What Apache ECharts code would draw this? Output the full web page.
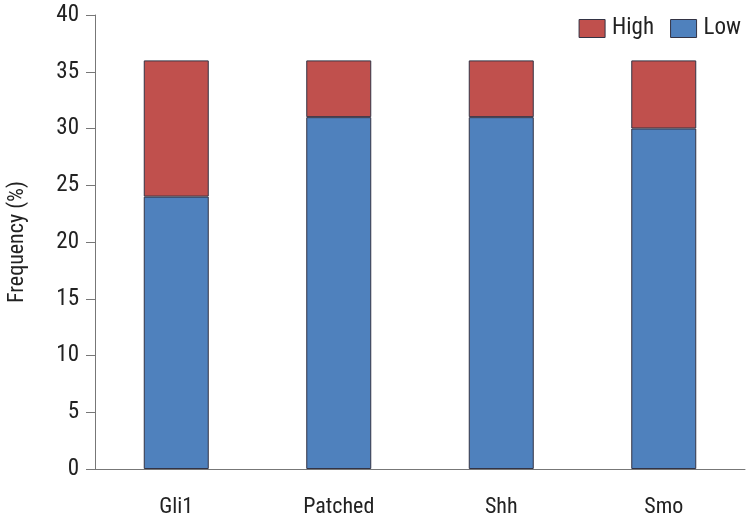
<!DOCTYPE html>
<html><head><meta charset="utf-8">
<script src="https://cdn.jsdelivr.net/npm/echarts@6/dist/echarts.min.js"></script>
<style>html,body{margin:0;padding:0;background:#fff}#c{width:752px;height:522px}</style>
</head><body><div id="c"></div>
<script>
var categories = ['Gli1', 'Patched', 'Shh', 'Smo'];
var lowValues = [24, 31, 31, 30];
var highValues = [12, 5, 5, 6];
var yTicks = [0, 5, 10, 15, 20, 25, 30, 35, 40];

var FONT = '"Liberation Sans Narrow", "Roboto Condensed", Roboto, sans-serif';
var chart = echarts.init(document.getElementById('c'));
chart.setOption({
  animation: false,
  textStyle: {fontFamily: FONT},
  grid: {left: 95, right: 7, top: 15, bottom: 53, containLabel: false, outerBoundsMode: 'none'},
  legend: {
    right: 6, top: 12, itemWidth: 26, itemHeight: 18, itemGap: 16,
    icon: 'rect',
    itemStyle: {borderColor: '#333344', borderWidth: 1},
    textStyle: {fontFamily: FONT, fontSize: 23, color: '#222', padding: [0, 0, 0, 2]},
    data: ['High', 'Low']
  },
  xAxis: {
    type: 'category', data: categories,
    axisLine: {lineStyle: {color: '#777'}},
    axisTick: {length: 9, lineStyle: {color: '#777'}},
    axisLabel: {fontFamily: FONT, fontSize: 22, color: '#222', margin: 27}
  },
  yAxis: {
    type: 'value', min: yTicks[0], max: yTicks[yTicks.length - 1], interval: 5,
    name: 'Frequency (%)', nameLocation: 'middle', nameGap: 67,
    nameTextStyle: {fontFamily: FONT, fontSize: 22, color: '#222'},
    axisLine: {show: true, lineStyle: {color: '#777'}},
    axisTick: {show: true, length: 9, lineStyle: {color: '#777'}},
    splitLine: {show: false},
    axisLabel: {fontFamily: FONT, fontSize: 23, color: '#222', margin: 16}
  },
  series: [
    {name: 'Low', type: 'bar', stack: 't', data: lowValues, barWidth: '40%',
     itemStyle: {color: '#4f81bd', borderColor: '#333344', borderWidth: 1}},
    {name: 'High', type: 'bar', stack: 't', data: highValues, barWidth: '40%',
     itemStyle: {color: '#c0504d', borderColor: '#333344', borderWidth: 1}}
  ]
});
</script></body></html>
